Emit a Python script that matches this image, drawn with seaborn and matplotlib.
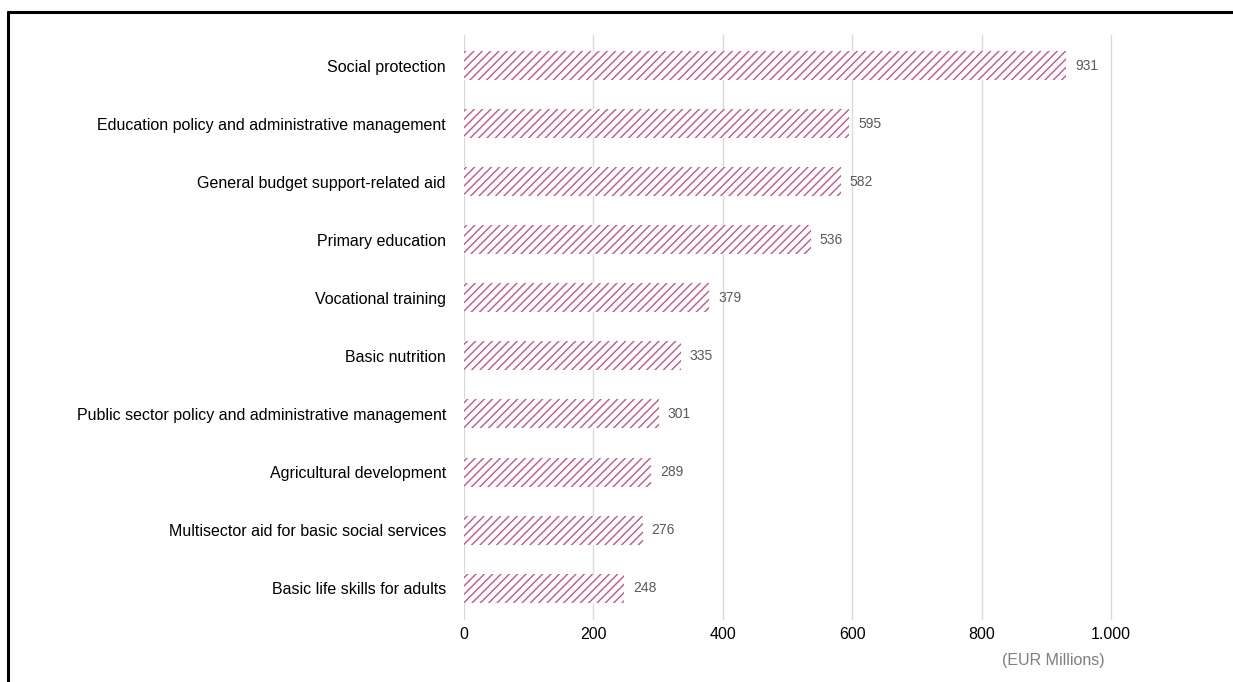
import matplotlib
matplotlib.use("Agg")
import matplotlib.pyplot as plt
import matplotlib.ticker as mticker
from matplotlib.lines import Line2D
import seaborn as sns
import pandas as pd

categories = [
    "Social protection",
    "Education policy and administrative management",
    "General budget support-related aid",
    "Primary education",
    "Vocational training",
    "Basic nutrition",
    "Public sector policy and administrative management",
    "Agricultural development",
    "Multisector aid for basic social services",
    "Basic life skills for adults",
]
values = [931, 595, 582, 536, 379, 335, 301, 289, 276, 248]
x_ticks = [0, 200, 400, 600, 800, 1000]
unit_label = "(EUR Millions)"

sns.set_theme(style="white")
plt.rcParams["font.family"] = ["Liberation Sans", "DejaVu Sans"]
plt.rcParams["hatch.linewidth"] = 1.0

bar_color = "#c2568a"

df = pd.DataFrame({"category": categories, "value": values})

fig = plt.figure(figsize=(12.33, 6.82), dpi=100)
# axes spans a little past the last gridline so it is not clipped
ax_left, ax_right = 464, 1121
ax = fig.add_axes([ax_left / 1233, 1 - 620 / 682, (ax_right - ax_left) / 1233, (620 - 35) / 682])

sns.barplot(data=df, x="value", y="category", orient="h", ax=ax,
            color="white", width=0.5, saturation=1)
for p in ax.patches:
    p.set_hatch("////")
    p.set_edgecolor(bar_color)
    p.set_linewidth(0)
    p.set_facecolor("white")

ax.set_xlim(0, 1000 * (ax_right - ax_left) / (1111 - ax_left))
ax.set_ylim(len(categories) - 0.45, -0.53)
ax.set_xticks(x_ticks)
ax.xaxis.set_major_formatter(mticker.FuncFormatter(lambda v, _: f"{int(v):,}".replace(",", ".")))
ax.grid(axis="x", color="#d9d9d9", linewidth=1)
ax.set_axisbelow(True)
for s in ax.spines.values():
    s.set_visible(False)
ax.tick_params(axis="x", length=0, pad=5, labelsize=11.5, labelcolor="#000000")
ax.tick_params(axis="y", length=0, pad=13, labelsize=11.5, labelcolor="#000000")
ax.set_xlabel("")
ax.set_ylabel("")

for i, v in enumerate(values):
    ax.text(v + 14, i, f"{v}", va="center", ha="left", fontsize=10, color="#595959")

fig.text(1053 / 1233, 1 - 660 / 682, unit_label, ha="center", va="center",
         fontsize=11.5, color="#7f7f7f")

# frame lines along the top and left of the figure
fig.add_artist(Line2D([8 / 1233, 1.0], [1 - 12 / 682, 1 - 12 / 682], color="black", linewidth=2.2,
                      transform=fig.transFigure))
fig.add_artist(Line2D([8 / 1233, 8 / 1233], [1 - 12 / 682, 0.0], color="black", linewidth=2.2,
                      transform=fig.transFigure))

fig.savefig("out.png", dpi=100, facecolor="white")
